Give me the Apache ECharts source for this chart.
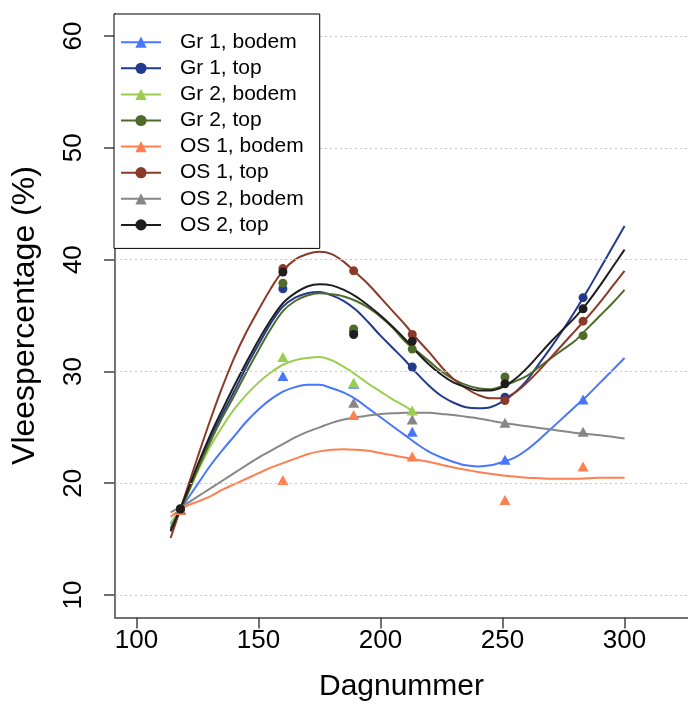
<!DOCTYPE html>
<html>
<head>
<meta charset="utf-8">
<script src="https://cdn.jsdelivr.net/npm/echarts@6/dist/echarts.min.js"></script>
<style>html,body{margin:0;padding:0;background:#fff}#c{width:688px;height:707px}</style>
</head>
<body>
<div id="c"></div>
<script>
// ---- data ----
const seriesNames = ['Gr 1, bodem','Gr 1, top','Gr 2, bodem','Gr 2, top','OS 1, bodem','OS 1, top','OS 2, bodem','OS 2, top'];
const xTicks = [100,150,200,250,300];
const yTicks = [10,20,30,40,50,60];

// fitted curves at curveX
const curveX         = [114,120,125,130,135,140,145,150,155,160,165,170,175,180,185,190,195,200,205,210,215,220,225,230,235,240,245,250,255,260,265,270,275,280,285,290,295,300];
const gr2BodemCurveX = [114,120,125,130,135,140,145,150,155,160,165,170,175,180,185,190,195,200,205,210,214];
const gr1BodemCurve = [16.4,18.3,19.9,21.5,22.9,24.2,25.5,26.6,27.5,28.2,28.6,28.8,28.8,28.5,28.1,27.5,26.7,25.9,25.1,24.3,23.5,22.8,22.3,21.9,21.6,21.5,21.6,21.9,22.3,23.0,23.9,24.9,25.9,26.9,27.9,29.0,30.1,31.2];
const gr1TopCurve   = [15.8,18.6,21.3,23.9,26.1,28.2,30.4,32.4,34.3,35.8,36.6,37.0,37.1,36.8,36.3,35.5,34.4,33.2,32.1,31.0,29.8,28.7,27.8,27.2,26.8,26.7,26.8,27.3,28.1,29.2,30.7,32.2,33.8,35.5,37.3,39.2,41.1,43.0];
const gr2BodemCurve = [16.3,18.6,21.0,23.2,25.0,26.6,27.9,29.0,29.9,30.6,31.0,31.2,31.3,31.0,30.4,29.7,28.9,28.2,27.5,26.9,26.3];
const gr2TopCurve   = [16.0,18.6,21.2,23.6,25.8,27.8,29.9,31.9,33.8,35.4,36.3,36.8,37.0,36.9,36.7,36.3,35.7,34.9,33.9,32.7,31.8,30.9,30.0,29.3,28.8,28.5,28.4,28.7,29.1,29.6,30.4,31.2,32.0,32.8,33.9,35.0,36.1,37.3];
const os1BodemCurve = [17.0,17.9,18.35,18.8,19.4,19.9,20.4,20.9,21.4,21.8,22.2,22.6,22.85,23.0,23.05,23.0,22.9,22.7,22.5,22.3,22.1,21.9,21.65,21.4,21.2,21.0,20.85,20.7,20.6,20.5,20.45,20.4,20.4,20.4,20.45,20.5,20.5,20.5];
const os1TopCurve   = [15.1,19.0,22.3,25.5,28.5,31.2,33.5,35.5,37.4,39.0,40.0,40.5,40.7,40.5,39.8,38.8,37.8,36.6,35.4,34.2,32.9,31.7,30.4,29.3,28.5,27.9,27.6,27.6,28.1,29.0,30.1,31.3,32.5,33.7,34.9,36.2,37.6,39.0];
const os2BodemCurve = [17.4,18.1,18.8,19.5,20.2,20.9,21.6,22.3,22.9,23.5,24.1,24.6,25.0,25.4,25.7,25.9,26.05,26.2,26.25,26.3,26.3,26.3,26.2,26.1,25.95,25.8,25.6,25.4,25.25,25.1,24.95,24.8,24.65,24.5,24.4,24.3,24.15,24.0];
const os2TopCurve   = [15.7,18.8,21.6,24.2,26.5,28.7,30.8,32.8,34.6,36.1,37.0,37.6,37.8,37.7,37.3,36.7,35.9,35.0,34.0,32.9,31.7,30.6,29.7,29.0,28.6,28.3,28.3,28.6,29.3,30.3,31.5,32.7,33.8,34.9,36.2,37.7,39.3,40.9];

// measured points
const days = [118,160,189,213,251,283];
const gr2BodemDays = [118,160,189,213];
const os2BodemDays = [118,189,213,251,283];
const gr1BodemPts = [17.6,29.6,28.9,24.6,22.1,27.5];
const gr1TopPts   = [17.7,37.4,33.6,30.4,27.7,36.6];
const gr2BodemPts = [17.7,31.3,29.0,26.5];
const gr2TopPts   = [17.7,37.9,33.8,32.0,29.5,33.2];
const os1BodemPts = [17.6,20.3,26.1,22.4,18.5,21.5];
const os1TopPts   = [17.7,39.2,39.0,33.3,27.4,34.5];
const os2BodemPts = [17.7,27.2,25.7,25.4,24.6];
const os2TopPts   = [17.7,38.9,33.3,32.7,28.9,35.6];

// ---- styling ----
const FONT = 'Liberation Sans, Arial, sans-serif';
const colors = ['#4876FF','#223A8C','#9ACD50','#4F6B2B','#FF7F50','#8B3A2A','#878787','#1E1E1E'];
const symbols = ['triangle','circle','triangle','circle','triangle','circle','triangle','circle'];
const curves = [
  [curveX, gr1BodemCurve],[curveX, gr1TopCurve],[gr2BodemCurveX, gr2BodemCurve],[curveX, gr2TopCurve],
  [curveX, os1BodemCurve],[curveX, os1TopCurve],[curveX, os2BodemCurve],[curveX, os2TopCurve]
];
const points = [
  [days, gr1BodemPts],[days, gr1TopPts],[gr2BodemDays, gr2BodemPts],[days, gr2TopPts],
  [days, os1BodemPts],[days, os1TopPts],[os2BodemDays, os2BodemPts],[days, os2TopPts]
];
const zip = (xs, ys) => xs.map((x, i) => [x, ys[i]]);

const series = [];
// dotted horizontal grid lines placed through the y axis scale
series.push({
  type: 'line', name: '_grid', data: [], silent: true, z: 1,
  markLine: {
    silent: true, symbol: 'none', animation: false,
    label: { show: false },
    lineStyle: { type: [2, 3], color: '#c8c8c8', width: 1 },
    data: yTicks.map(v => ({ yAxis: v }))
  }
});
seriesNames.forEach((n, i) => {
  series.push({
    type: 'line', name: n, data: zip(curves[i][0], curves[i][1]),
    smooth: 0.35, showSymbol: false, symbol: symbols[i], z: 2,
    lineStyle: { color: colors[i], width: 2 },
    itemStyle: { color: colors[i] }
  });
});
seriesNames.forEach((n, i) => {
  series.push({
    type: 'scatter', name: n, data: zip(points[i][0], points[i][1]),
    symbol: symbols[i], symbolSize: symbols[i] === 'triangle' ? [11, 10] : 9, z: 3,
    itemStyle: { color: colors[i], opacity: 1 }
  });
});

const chart = echarts.init(document.getElementById('c'), null, { renderer: 'canvas' });
chart.setOption({
  animation: false,
  backgroundColor: '#fff',
  grid: { left: 115, right: 0, top: 13.7, bottom: 89.6, containLabel: false, outerBoundsMode: 'none' },
  legend: {
    data: seriesNames,
    orient: 'vertical', left: 114, top: 14,
    itemWidth: 40, itemHeight: 14, itemGap: 5.1,
    padding: [17.7, 16, 13, 6],
    backgroundColor: '#fff', borderColor: '#000', borderWidth: 1, borderRadius: 0,
    textStyle: { fontFamily: FONT, fontSize: 21, lineHeight: 20, color: '#000', padding: [0, 0, 0, 14] },
    selectedMode: false, z: 10
  },
  xAxis: {
    type: 'value', min: 91.2, max: 326,
    axisLine: { show: true, onZero: false, lineStyle: { color: '#444', width: 1.5 } },
    axisTick: { show: true, customValues: xTicks, length: 11, lineStyle: { color: '#444', width: 1.5 } },
    axisLabel: { customValues: xTicks, fontFamily: FONT, fontSize: 26, color: '#000', margin: 10 },
    splitLine: { show: false },
    name: 'Dagnummer', nameLocation: 'middle', nameGap: 54,
    nameTextStyle: { fontFamily: FONT, fontSize: 30, color: '#000' }
  },
  yAxis: {
    type: 'value', min: 8, max: 62,
    axisLine: { show: true, onZero: false, lineStyle: { color: '#444', width: 1.5 } },
    axisTick: { show: true, customValues: yTicks, length: 11, lineStyle: { color: '#444', width: 1.5 } },
    axisLabel: { customValues: yTicks, rotate: 90, fontFamily: FONT, fontSize: 26, color: '#000', margin: 28 },
    splitLine: { show: false },
    name: 'Vleespercentage (%)', nameLocation: 'middle', nameGap: 74, nameRotate: 90,
    nameTextStyle: { fontFamily: FONT, fontSize: 32, color: '#000' }
  },
  series: series
});
</script>
</body>
</html>
